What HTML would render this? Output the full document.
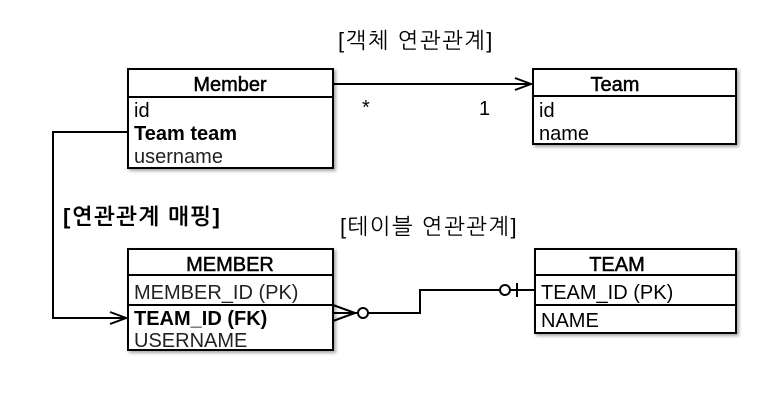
<html><body style="margin:0;background:#fff">
<svg width="776" height="403" xmlns="http://www.w3.org/2000/svg" font-family="Liberation Sans, NanumGothic, Noto Sans CJK KR, sans-serif" font-size="20">
<defs><filter id="s"><feDropShadow dx="2" dy="2" stdDeviation="1.5" flood-opacity="0.35"/></filter></defs>
<g fill="#fff" stroke="#000" stroke-width="2" filter="url(#s)">
<rect x="128" y="69" width="205" height="99"/>
<rect x="533" y="69" width="203" height="75"/>
<rect x="128" y="249" width="205" height="101"/>
<rect x="535" y="249" width="201" height="84"/>
</g>
<g stroke="#000" stroke-width="2" fill="none">
<line x1="128" y1="97" x2="333" y2="97"/>
<line x1="533" y1="96" x2="736" y2="96"/>
<line x1="128" y1="275" x2="333" y2="275"/>
<line x1="128" y1="305" x2="333" y2="305"/>
<line x1="535" y1="275" x2="736" y2="275"/>
<line x1="535" y1="305" x2="736" y2="305"/>
<line x1="333" y1="84" x2="531" y2="84"/>
<polyline points="515,78 531,84 515,90"/>
<polyline points="128,132 53,132 53,318 126,318"/>
<polyline points="110,312 126,318 110,324"/>
<polyline points="333,305 355,313 333,321"/>
<line x1="333" y1="313" x2="357" y2="313"/>
<circle cx="363" cy="313" r="5"/>
<polyline points="368,313 420,313 420,290 500,290"/>
<circle cx="505" cy="290" r="5"/>
<line x1="510" y1="290" x2="535" y2="290"/>
<line x1="517" y1="283" x2="517" y2="297"/>
</g>
<g fill="#000">
<text x="230" y="91" text-anchor="middle" stroke="#000" stroke-width="0.5">Member</text>
<text x="134" y="117">id</text>
<text x="134" y="140" font-weight="bold">Team team</text>
<text x="134" y="163" fill="#222">username</text>
<text x="615" y="91" text-anchor="middle" stroke="#000" stroke-width="0.5">Team</text>
<text x="539" y="117">id</text>
<text x="539" y="140">name</text>
<text x="230" y="271" text-anchor="middle" stroke="#000" stroke-width="0.5">MEMBER</text>
<text x="134" y="299" fill="#222">MEMBER_ID (PK)</text>
<text x="134" y="325" font-weight="bold">TEAM_ID (FK)</text>
<text x="134" y="347" fill="#222">USERNAME</text>
<text x="617" y="271" text-anchor="middle" stroke="#000" stroke-width="0.5">TEAM</text>
<text x="541" y="299">TEAM_ID (PK)</text>
<text x="541" y="327">NAME</text>
<text x="362" y="114">*</text>
<text x="479" y="115">1</text>
<text x="338" y="48" font-size="22" letter-spacing="1.5">[객체 연관관계]</text>
<text x="340" y="234" font-size="22" letter-spacing="1.5">[테이블 연관관계]</text>
<text x="63" y="224" font-size="22" font-weight="bold" letter-spacing="1.5">[연관관계 매핑]</text>
</g>
</svg>
</body></html>
